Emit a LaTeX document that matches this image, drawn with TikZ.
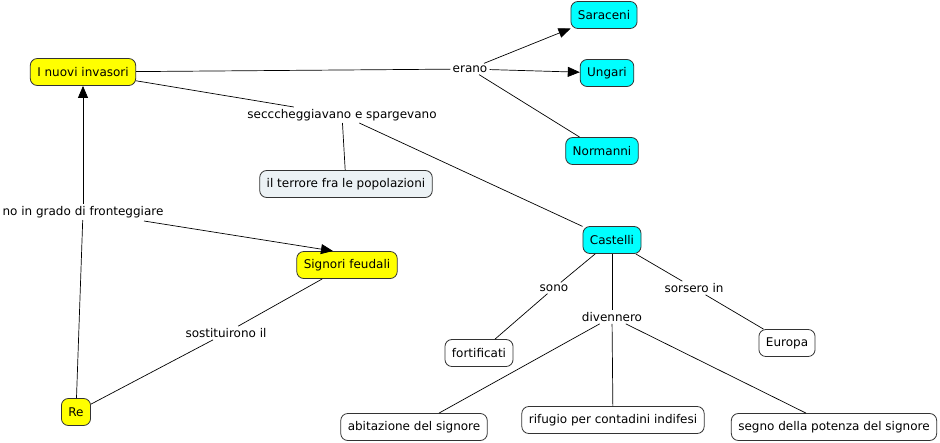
\documentclass[tikz,border=0pt]{standalone}
\usepackage{fontspec}
\setmainfont{DejaVu Sans}
\usetikzlibrary{arrows.meta}
\definecolor{cyanc}{RGB}{0,255,255}
\definecolor{yellowc}{RGB}{255,255,0}
\definecolor{greyc}{RGB}{236,242,245}
\begin{document}
\begin{tikzpicture}[x=1pt,y=-1pt,
  concept/.style={draw=black!80, line width=0.8pt, rounded corners=7pt, font=\fontsize{12}{14}\selectfont, inner xsep=7pt, inner ysep=0pt, minimum height=27pt},
  yel/.style={concept, fill=yellowc},
  cya/.style={concept, fill=cyanc},
  gry/.style={concept, fill=greyc},
  wht/.style={concept, fill=white},
  lnk/.style={font=\fontsize{12}{14}\selectfont, inner sep=2pt, fill=white},
  conn/.style={line width=0.7pt, black},
  arr/.style={conn, -{Triangle[length=12pt,width=10pt]}}]
\useasboundingbox (0,0) rectangle (940,442);
\fill[white] (0,0) rectangle (940,442);
% concepts
\node[yel] (inv) at (83,72) {I nuovi invasori};
\node[cya] (sar) at (604,15) {Saraceni};
\node[cya] (ung) at (607,73) {Ungari};
\node[cya] (nor) at (602,151) {Normanni};
\node[gry] (ter) at (346,184) {il terrore fra le popolazioni};
\node[yel] (sig) at (347,265) {Signori feudali};
\node[yel] (re) at (76,412) {Re};
\node[cya] (cas) at (612,240) {Castelli};
\node[wht] (for) at (479,353) {fortificati};
\node[wht] (eur) at (787,343) {Europa};
\node[wht] (abi) at (414,427) {abitazione del signore};
\node[wht] (rif) at (613,420) {rifugio per contadini indifesi};
\node[wht] (seg) at (834,427) {segno della potenza del signore};
% linking phrases
\node[lnk] (era) at (470,69) {erano};
\node[lnk] (sec) at (342,115) {secccheggiavano e spargevano};
\node[lnk] (nog) at (83,212) {no in grado di fronteggiare};
\node[lnk] (sos) at (226,333) {sostituirono il};
\node[lnk] (son) at (554,288) {sono};
\node[lnk] (div) at (612,317) {divennero};
\node[lnk] (sor) at (694,288) {sorsero in};
\coordinate (nogs) at (144,221);
\coordinate (sigt) at (333,251);
% connectors
\draw[conn] (inv) -- (era);
\draw[arr] (era) -- (sar);
\draw[arr] (era) -- (ung);
\draw[conn] (era) -- (nor);
\draw[conn] (inv) -- (sec);
\draw[conn] (sec) -- (ter);
\draw[conn] (sec) -- (cas);
\draw[conn] (re) -- (nog);
\draw[arr] (nog) -- (inv);
\draw[arr] (nogs) -- (sigt);
\draw[conn] (sig) -- (sos);
\draw[conn] (sos) -- (re);
\draw[conn] (cas) -- (son);
\draw[conn] (son) -- (for);
\draw[conn] (cas) -- (div);
\draw[conn] (div) -- (abi);
\draw[conn] (div) -- (rif);
\draw[conn] (div) -- (seg);
\draw[conn] (cas) -- (sor);
\draw[conn] (sor) -- (eur);
\end{tikzpicture}
\end{document}
